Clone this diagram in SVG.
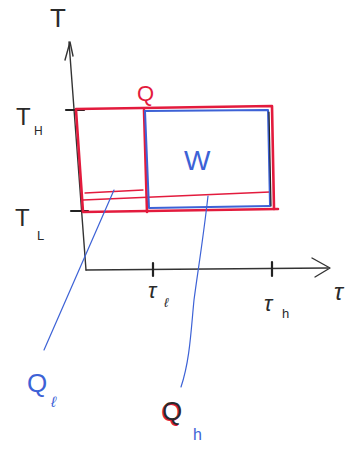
<svg xmlns="http://www.w3.org/2000/svg" width="361" height="450" viewBox="0 0 361 450">
<style>
.ax{fill:none;stroke:#333;stroke-width:1.4;stroke-linecap:round;stroke-linejoin:round}
.tk{fill:none;stroke:#222;stroke-width:2.2;stroke-linecap:round}
.rd{fill:none;stroke:#e31b3d;stroke-width:2.6;stroke-linecap:round;stroke-linejoin:round}
.rt{fill:none;stroke:#e31b3d;stroke-width:1.3;stroke-linecap:round}
.bl{fill:none;stroke:#3d62d6;stroke-width:2;stroke-linecap:round;stroke-linejoin:round}
.bt{fill:none;stroke:#3d62d6;stroke-width:1.2;stroke-linecap:round}
.lk{font-family:"Liberation Sans",sans-serif;fill:#2a2a2a}
.lb{font-family:"Liberation Sans",sans-serif;fill:#3d62d6}
.lr{font-family:"Liberation Sans",sans-serif;fill:#e31b3d}
</style>
<rect width="361" height="450" fill="#fff"/>
<g id="axes">
<path class="ax" d="M69,42 L86,270"/>
<path class="ax" d="M65,60 L70,42 L73,56"/>
<path class="ax" d="M86,270 L328,268"/>
<path class="ax" d="M312,258 L330,268 L315,277"/>
<path class="tk" d="M66,110 L84,110"/>
<path class="tk" d="M71,211 L88,211"/>
<path class="tk" d="M153,263 L153,276"/>
<path class="tk" d="M272,262 L272,276"/>
</g>
<g id="cycle-red">
<path class="rd" d="M76,109 L272,106 L274,209"/>
<path class="rd" d="M76,110 L83,212 L278,209"/>
<path class="rd" d="M144,110 L147,212"/>
<path class="rt" d="M85,193 L143,190"/>
<path class="rt" d="M83,200 L270,192"/>
</g>
<g id="cycle-blue">
<path class="bl" d="M145,111 L268,110 L270,205"/>
<path class="bl" d="M145,111 L149,208 L270,206"/>
<path class="tk" d="M269,112 L271,206" style="stroke-width:1.2"/>
</g>
<g id="connectors">
<path class="bt" d="M114,190 L44,350"/>
<path class="bt" d="M208,196 C203,240 198,270 194,300 C191,330 190,360 181,387"/>
</g>
<g id="labels">
<text class="lk" x="50" y="27" font-size="26">T</text>
<text class="lk" x="16" y="125" font-size="24">T</text>
<text class="lk" x="34" y="135" font-size="12">H</text>
<text class="lk" x="15" y="226" font-size="24">T</text>
<text class="lk" x="37" y="240" font-size="13">L</text>
<text class="lr" x="137" y="101" font-size="22">Q</text>
<text class="lb" x="184" y="170" font-size="28">W</text>
<text class="lk" x="148" y="298" font-size="22" font-style="italic">τ</text>
<text class="lk" x="164" y="307" font-size="13" font-style="italic">ℓ</text>
<text class="lk" x="264" y="311" font-size="22" font-style="italic">τ</text>
<text class="lk" x="282" y="318" font-size="13">h</text>
<text class="lk" x="334" y="300" font-size="24" font-style="italic">τ</text>
<text class="lb" x="27" y="392" font-size="26">Q</text>
<text class="lb" x="51" y="407" font-size="15" font-style="italic">ℓ</text>
<text class="lr" x="161" y="421" font-size="26">Q</text>
<text class="lk" x="162" y="420" font-size="26">Q</text>
<text class="lb" x="193" y="440" font-size="16">h</text>
</g>
</svg>
